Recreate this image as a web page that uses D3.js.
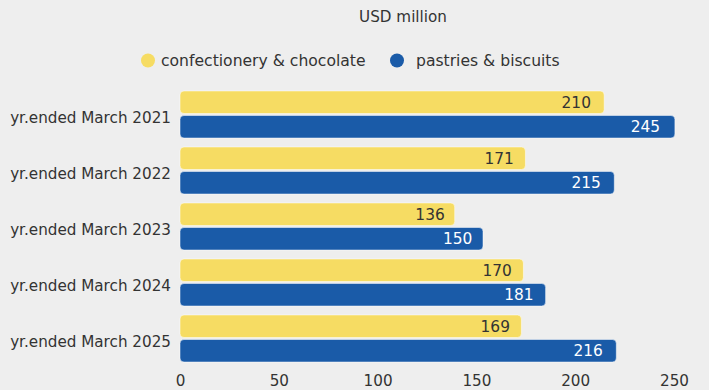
<!DOCTYPE html>
<html>
<head>
<meta charset="utf-8">
<script src="https://cdn.jsdelivr.net/npm/d3@7"></script>
<style>
  html, body { margin: 0; padding: 0; background: #eeeeee; }
  svg { display: block; font-family: "DejaVu Sans", Verdana, sans-serif; }
</style>
</head>
<body>
<div id="chart"></div>
<script>
// chart data
var years = ["yr.ended March 2021", "yr.ended March 2022", "yr.ended March 2023",
             "yr.ended March 2024", "yr.ended March 2025"];
var seriesNames = ["confectionery & chocolate", "pastries & biscuits"];
var confectionery = [210, 171, 136, 170, 169];
var pastries = [245, 215, 150, 181, 216];
var xTicks = [0, 50, 100, 150, 200, 250];

var colors = ["#f6dc63", "#1a5ba8"];
var textColors = ["#333333", "#ffffff"];

var width = 709, height = 390;

var svg = d3.select("#chart")
    .append("svg")
    .attr("width", width)
    .attr("height", height);

svg.append("rect")
    .attr("width", width)
    .attr("height", height)
    .attr("fill", "#eeeeee");

// title
svg.append("text")
    .attr("x", 403)
    .attr("y", 22)
    .attr("text-anchor", "middle")
    .attr("font-size", 15.2)
    .attr("fill", "#333")
    .text("USD million");

// legend
var legendPos = [{cx: 148, tx: 161}, {cx: 397, tx: 416}];
var legend = svg.append("g");
seriesNames.forEach(function (name, i) {
    legend.append("circle")
        .attr("cx", legendPos[i].cx)
        .attr("cy", 60.5)
        .attr("r", 7)
        .attr("fill", colors[i]);
    legend.append("text")
        .attr("x", legendPos[i].tx)
        .attr("y", 66)
        .attr("font-size", 15.6)
        .attr("fill", "#333")
        .text(name);
});

// scales
var x = d3.scaleLinear().domain([0, 250]).range([180, 674]);
// bars in the original run a bit longer than the axis
var xBar = d3.scaleLinear().domain([0, 250]).range([180, 685]);

var y = d3.scaleBand()
    .domain(years)
    .range([86.5, 366.5])
    .paddingInner(0.16)
    .paddingOuter(0.08);

var ySub = d3.scaleBand()
    .domain([0, 1])
    .range([0, y.bandwidth()])
    .paddingInner(0.08);

var data = years.map(function (yr, i) {
    return {year: yr, values: [confectionery[i], pastries[i]]};
});

// x axis (labels only)
var xAxis = svg.append("g")
    .attr("transform", "translate(0,372)")
    .call(d3.axisBottom(x).tickValues(xTicks).tickSize(0).tickPadding(0));
xAxis.select(".domain").remove();
xAxis.selectAll("text")
    .attr("font-size", 15.2)
    .attr("font-family", "DejaVu Sans, Verdana, sans-serif")
    .attr("fill", "#333")
    .attr("dy", "0.9em");

// y axis (labels only)
var yAxis = svg.append("g")
    .attr("transform", "translate(171,0)")
    .call(d3.axisLeft(y).tickSize(0).tickPadding(0));
yAxis.select(".domain").remove();
yAxis.selectAll("text")
    .attr("font-size", 15.2)
    .attr("font-family", "DejaVu Sans, Verdana, sans-serif")
    .attr("fill", "#333")
    .attr("dy", "0.55em");

// bars
var groups = svg.append("g")
    .selectAll("g")
    .data(data)
    .enter().append("g")
    .attr("transform", function (d) { return "translate(0," + y(d.year) + ")"; });

groups.selectAll("rect")
    .data(function (d) { return d.values; })
    .enter().append("rect")
    .attr("x", xBar(0))
    .attr("y", function (d, i) { return ySub(i); })
    .attr("width", function (d) { return xBar(d) - xBar(0); })
    .attr("height", ySub.bandwidth())
    .attr("rx", 4)
    .attr("fill", function (d, i) { return colors[i]; })
    .attr("stroke", "rgba(255,255,255,0.5)")
    .attr("stroke-width", 1);

groups.selectAll("text")
    .data(function (d) { return d.values; })
    .enter().append("text")
    .attr("x", function (d) { return x(d) - 4; })
    .attr("y", function (d, i) { return ySub(i) + ySub.bandwidth() / 2; })
    .attr("dy", "0.36em")
    .attr("text-anchor", "end")
    .attr("font-size", 15.4)
    .attr("fill", function (d, i) { return textColors[i]; })
    .text(function (d) { return d; });
</script>
</body>
</html>
